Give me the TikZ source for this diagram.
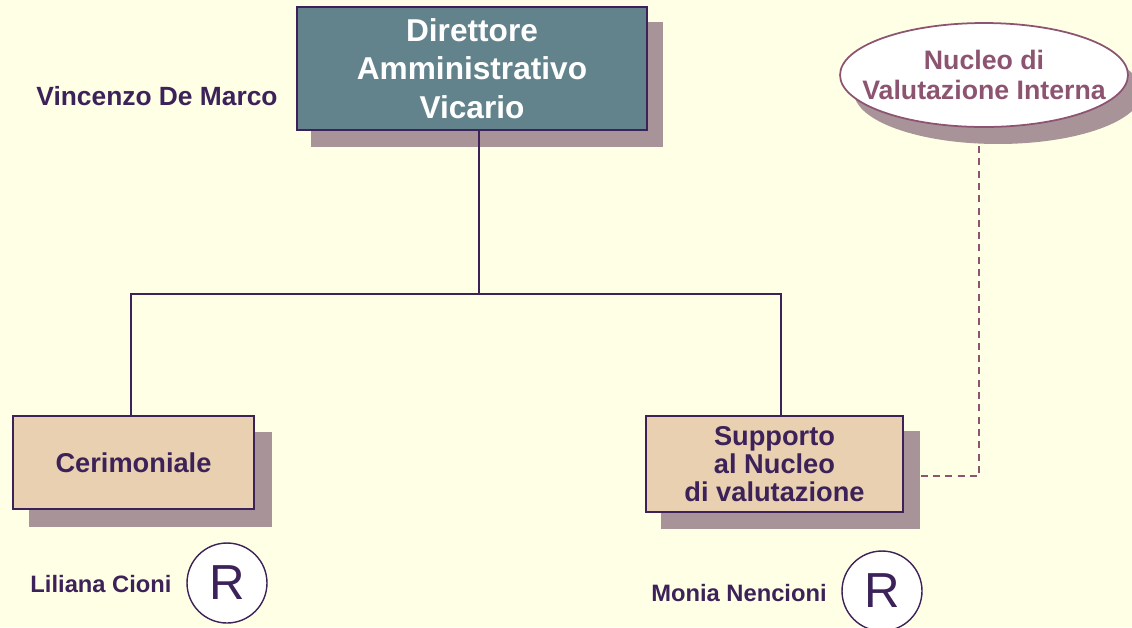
\documentclass[tikz,border=0pt]{standalone}
\usepackage{fontspec}
\setmainfont{Liberation Sans}
\definecolor{bgcol}{HTML}{FFFFE6}
\definecolor{tealbox}{HTML}{62838C}
\definecolor{darkpurple}{HTML}{3C2258}
\definecolor{tanbox}{HTML}{E8D0B0}
\definecolor{shadecol}{HTML}{A89399}
\definecolor{mauve}{HTML}{8C5470}
\pgfdeclarelayer{bg}
\pgfdeclarelayer{shade}
\pgfsetlayers{bg,shade,main}
\tikzset{
  headbox/.style={draw=darkpurple, line width=1pt, fill=tealbox, text=white, align=center,
    font=\bfseries\fontsize{18}{21.8}\selectfont, minimum width=7cm, minimum height=2.46cm, inner sep=0pt},
  unitbox/.style={draw=darkpurple, line width=0.8pt, fill=tanbox, text=darkpurple, align=center,
    font=\bfseries\fontsize{15.5}{15.8}\selectfont, inner sep=0pt},
  nucleotext/.style={text=mauve, align=center, font=\bfseries\fontsize{15.2}{17}\selectfont,
    minimum width=5.76cm, minimum height=2.08cm, inner sep=0pt},
  nucleoshape/.style={draw=mauve, line width=1pt, fill=white},
  person/.style={text=darkpurple, font=\bfseries\fontsize{13.5}{16}\selectfont, inner sep=0pt},
  rmark/.style={circle, draw=darkpurple, line width=0.8pt, fill=white, text=darkpurple,
    minimum size=1.6cm, inner sep=0pt, font=\fontsize{28}{28}\selectfont},
  treeline/.style={draw=darkpurple, line width=0.8pt},
  dashline/.style={draw=mauve, line width=0.9pt, dash pattern=on 4pt off 3pt},
}
\begin{document}
\begin{tikzpicture}[x=0.02cm,y=-0.02cm]
\begin{pgfonlayer}{bg}
\fill[bgcol] (0,0) rectangle (1132,627);
\end{pgfonlayer}
\useasboundingbox (0,0) rectangle (1132,627);

% boxes
\node[headbox] (direttore) at (472,68.5) {Direttore\\Amministrativo\\Vicario};
\node[unitbox, minimum width=4.82cm, minimum height=1.86cm] (cerimoniale) at (133.5,462.5) {Cerimoniale};
\node[unitbox, minimum width=5.14cm, minimum height=1.92cm] (supporto) at (774.5,464) {Supporto\\al Nucleo\\di valutazione};
\coordinate (nucleomid) at (984,75);
\path[nucleoshape] (nucleomid) ellipse [x radius=2.88cm, y radius=1.04cm];
\node[nucleotext] (nucleo) at (nucleomid) {Nucleo di\\Valutazione Interna};

% shadows
\begin{pgfonlayer}{shade}
\fill[shadecol] ([shift={(15,16)}]direttore.south west) rectangle ([shift={(15,16)}]direttore.north east);
\fill[shadecol] ([shift={(17,17)}]cerimoniale.south west) rectangle ([shift={(17,17)}]cerimoniale.north east);
\fill[shadecol] ([shift={(16,16)}]supporto.south west) rectangle ([shift={(16,16)}]supporto.north east);
\fill[shadecol] ([shift={(14,17)}]nucleomid) ellipse [x radius=2.88cm, y radius=1.04cm];
\end{pgfonlayer}

% names
\node[person, font=\bfseries\fontsize{15}{17}\selectfont] (vincenzo) at (157,96) {Vincenzo De Marco};
\node[person] (liliana) at (101,584) {Liliana Cioni};
\node[person] (monia) at (739,593) {Monia Nencioni};
\node[rmark] (rliliana) at (227,583) {R};
\node[rmark] (rmonia) at (882,591) {R};

% tree
\coordinate (bus) at (479,294);
\draw[treeline] (direttore.south -| bus) -- (bus);
\draw[treeline] (cerimoniale.north -| 131,0) |- (bus) -| (supporto.north -| 781,0);

% dashed link
\coordinate (dashcorner) at (979,476);
\begin{pgfonlayer}{bg}
\draw[dashline] ([xshift=17*0.02cm]supporto.east |- dashcorner) -- (dashcorner) -- (nucleomid -| dashcorner);
\end{pgfonlayer}
\end{tikzpicture}
\end{document}
